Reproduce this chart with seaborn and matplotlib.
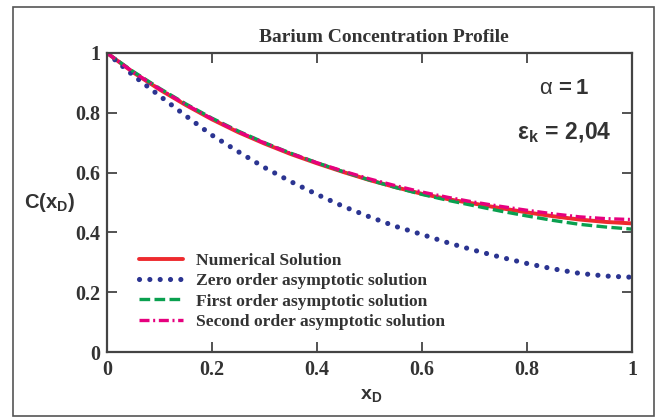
import numpy as np
import pandas as pd
import matplotlib
matplotlib.use('Agg')
import matplotlib.pyplot as plt
import seaborn as sns
from matplotlib.patches import Rectangle

# 数据
x_d = [0.0, 0.05, 0.1, 0.15, 0.2, 0.25, 0.3, 0.35, 0.4, 0.45, 0.5,
       0.55, 0.6, 0.65, 0.7, 0.75, 0.8, 0.85, 0.9, 0.95, 1.0]
numerical = [1.0, 0.935, 0.878, 0.826, 0.778, 0.735, 0.697, 0.662, 0.631, 0.602, 0.575,
             0.551, 0.529, 0.511, 0.496, 0.481, 0.467, 0.454, 0.443, 0.435, 0.430]
zero_order = [1.0, 0.925, 0.857, 0.79, 0.725, 0.67, 0.617, 0.57, 0.527, 0.487, 0.452,
              0.42, 0.393, 0.365, 0.34, 0.317, 0.296, 0.278, 0.263, 0.254, 0.250]
first_order = [1.0, 0.938, 0.882, 0.830, 0.782, 0.739, 0.700, 0.665, 0.633, 0.603, 0.575,
               0.550, 0.527, 0.507, 0.489, 0.471, 0.455, 0.440, 0.427, 0.418, 0.411]
second_order = [1.0, 0.936, 0.880, 0.828, 0.780, 0.737, 0.699, 0.664, 0.633, 0.605, 0.579,
                0.556, 0.535, 0.517, 0.501, 0.487, 0.474, 0.462, 0.452, 0.446, 0.443]

labels = ['Numerical Solution', 'Zero order asymptotic solution',
          'First order asymptotic solution', 'Second order asymptotic solution']
series = [numerical, zero_order, first_order, second_order]

sns.set_style('ticks')
plt.rcParams['font.family'] = ['Liberation Serif', 'DejaVu Serif']
plt.rcParams['mathtext.fontset'] = 'custom'
plt.rcParams['mathtext.rm'] = 'Liberation Sans'
plt.rcParams['mathtext.bf'] = 'Liberation Sans:bold'
plt.rcParams['mathtext.it'] = 'Liberation Sans:italic'

dark = '#333333'
styles = [
    dict(color='#ee2a2e', lw=2.8, linestyle='-'),
    dict(color='#2b3491', lw=3.7, linestyle=(0, (0.01, 2.0)), dash_capstyle='round'),
    dict(color='#0aa04f', lw=2.4, linestyle=(0, (3.2, 1.3))),
    dict(color='#e6007e', lw=2.4, linestyle=(0, (3.0, 1.1, 0.6, 1.1))),
]

fig = plt.figure(figsize=(6.6, 4.17), dpi=100)
ax = fig.add_axes([107 / 660, 1 - 352 / 417, 525 / 660, 299 / 417])

for y, lab, st in zip(series, labels, styles):
    df = pd.DataFrame({'x': x_d, 'y': y})
    sns.lineplot(data=df, x='x', y='y', ax=ax, label=lab, **st)

ax.set_xlim(0, 1)
ax.set_ylim(0, 1)
ax.set_xticks([0, 0.2, 0.4, 0.6, 0.8, 1])
ax.set_yticks([0, 0.2, 0.4, 0.6, 0.8, 1])
ax.set_xticklabels(['0', '0.2', '0.4', '0.6', '0.8', '1'])
ax.set_yticklabels(['0', '0.2', '0.4', '0.6', '0.8', '1'])
ax.tick_params(direction='in', length=7, width=1.3, color='#444444',
               top=True, right=True, labelsize=14.5, labelcolor=dark)
ax.tick_params(axis='x', pad=6)
ax.tick_params(axis='y', pad=5)
for lbl in ax.get_xticklabels() + ax.get_yticklabels():
    lbl.set_fontweight('bold')
for sp in ax.spines.values():
    sp.set_visible(True)
    sp.set_color('#444444')
    sp.set_linewidth(1.6)

ax.set_xlabel('')
ax.set_ylabel('')
fig.text(371 / 660, 1 - 396 / 417, r'$\mathbf{x_D}$', ha='center', va='center',
         fontsize=14, color=dark)
fig.text(50 / 660, 1 - 202 / 417, r'$\mathbf{C(x_D)}$', ha='center', va='center',
         fontsize=14.5, color=dark)
fig.text(384 / 660, 1 - 38 / 417, 'Barium Concentration Profile', ha='center',
         va='center', fontsize=14, fontweight='bold', color=dark)

# 参数标注
fig.text(564 / 660, 1 - 90 / 417, r'$\mathrm{\alpha}\,\mathbf{= 1}$', ha='center',
         va='center', fontsize=16, color=dark)
fig.text(564 / 660, 1 - 133 / 417, r'$\mathbf{\epsilon_k\,=\,2{,}04}$', ha='center',
         va='center', fontsize=16.5, color=dark)

leg = ax.legend(loc='upper left', bbox_to_anchor=(0.061, 0.333), frameon=False,
                borderpad=0, borderaxespad=0, handlelength=2.5, handletextpad=0.78,
                labelspacing=0.24, prop={'family': 'Liberation Serif', 'weight': 'bold',
                                         'size': 12.6})
for t in leg.get_texts():
    t.set_color(dark)

# 外框
fig.patches.append(Rectangle((12.5 / 660, 1 / 417), 641 / 660, 409 / 417,
                             transform=fig.transFigure, fill=False,
                             edgecolor='#555555', lw=1.2))

fig.savefig('out.png', dpi=100)
